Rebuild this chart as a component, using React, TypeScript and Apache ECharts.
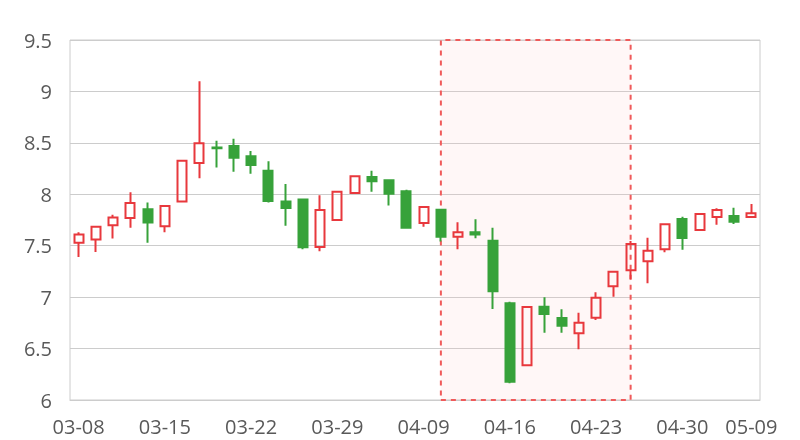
import React, { useEffect, useRef } from "react";
import * as echarts from "echarts";

const dates = [
  "03-08", "03-11", "03-12", "03-13", "03-14", "03-15", "03-18", "03-19", "03-20", "03-21",
  "03-22", "03-25", "03-26", "03-27", "03-28", "03-29", "04-01", "04-02", "04-03", "04-04",
  "04-09", "04-10", "04-11", "04-12", "04-15", "04-16", "04-17", "04-18", "04-19", "04-22",
  "04-23", "04-24", "04-25", "04-26", "04-29", "04-30", "05-06", "05-07", "05-08", "05-09",
];
const opens = [
  7.53, 7.56, 7.70, 7.77, 7.855, 7.69, 7.93, 8.305, 8.455, 8.47,
  8.37, 8.23, 7.93, 7.95, 7.487, 7.75, 8.012, 8.168, 8.136, 8.03,
  7.72, 7.85, 7.588, 7.63, 7.549, 6.94, 6.337, 6.907, 6.797, 6.648,
  6.80, 7.105, 7.262, 7.35, 7.465, 7.76, 7.653, 7.779, 7.789, 7.78,
];
const closes = [
  7.61, 7.685, 7.775, 7.915, 7.725, 7.885, 8.325, 8.495, 8.447, 8.355,
  8.285, 7.935, 7.867, 7.485, 7.847, 8.025, 8.175, 8.126, 8.006, 7.675,
  7.876, 7.588, 7.63, 7.61, 7.057, 6.178, 6.904, 6.836, 6.722, 6.752,
  6.995, 7.247, 7.517, 7.452, 7.708, 7.575, 7.808, 7.847, 7.734, 7.815,
];
const lows = [
  7.39, 7.44, 7.57, 7.675, 7.53, 7.63, 7.93, 8.155, 8.26, 8.22,
  8.20, 7.92, 7.695, 7.465, 7.445, 7.75, 8.012, 8.025, 7.89, 7.675,
  7.685, 7.54, 7.465, 7.572, 6.885, 6.162, 6.337, 6.654, 6.654, 6.493,
  6.778, 7.004, 7.173, 7.135, 7.436, 7.461, 7.643, 7.704, 7.711, 7.78,
];
const highs = [
  7.63, 7.69, 7.80, 8.02, 7.92, 7.885, 8.325, 9.10, 8.52, 8.54,
  8.42, 8.32, 8.10, 7.95, 7.99, 8.025, 8.175, 8.23, 8.136, 8.045,
  7.876, 7.86, 7.727, 7.757, 7.675, 6.956, 6.904, 6.998, 6.882, 6.849,
  7.047, 7.247, 7.546, 7.578, 7.708, 7.782, 7.808, 7.864, 7.87, 7.905,
];
const areaStart = "04-10";
const areaEnd = "04-25";

export default function App() {
  const ref = useRef<HTMLDivElement>(null);
  useEffect(() => {
    if (!ref.current) return;
    const chart = echarts.init(ref.current, null, { renderer: "svg" });
    const data = dates.map((_, i) => [opens[i], closes[i], lows[i], highs[i]]);
    const lastIdx = dates.length - 1;
    chart.setOption({
      animation: false,
      grid: {
        left: 70,
        right: 40,
        top: 40,
        bottom: 40,
        show: true,
        borderColor: "#cccccc",
        borderWidth: 1,
      },
      xAxis: {
        type: "category",
        data: dates,
        boundaryGap: true,
        axisLine: { show: true, lineStyle: { color: "#cccccc" } },
        axisTick: { show: false },
        axisLabel: {
          interval: (i: number) => i % 5 === 0 || i === lastIdx,
          color: "#595959",
          fontSize: 20,
          fontFamily: "Open Sans",
          margin: 16,
        },
        splitLine: { show: false },
      },
      yAxis: {
        type: "value",
        min: 6,
        max: 9.5,
        interval: 0.5,
        axisLine: { show: false },
        axisTick: { show: false },
        axisLabel: {
          color: "#595959",
          fontSize: 20,
          fontFamily: "Open Sans",
          margin: 18,
        },
        splitLine: { lineStyle: { color: "#cccccc" } },
      },
      series: [
        {
          type: "candlestick",
          data,
          barWidth: "55%",
          itemStyle: {
            color: "transparent",
            color0: "#37a23a",
            borderColor: "#e8383d",
            borderColor0: "#37a23a",
            borderWidth: 2,
          },
          markArea: {
            silent: true,
            itemStyle: {
              color: "rgba(255, 200, 200, 0.15)",
              borderColor: "#f05a5a",
              borderWidth: 2,
              borderType: [5, 5],
            },
            data: [[{ xAxis: areaStart }, { xAxis: areaEnd }]],
          },
        },
      ],
    });
    return () => chart.dispose();
  }, []);
  return (
    <div
      ref={ref}
      style={{ position: "fixed", left: 0, top: 0, width: 800, height: 440 }}
    />
  );
}
